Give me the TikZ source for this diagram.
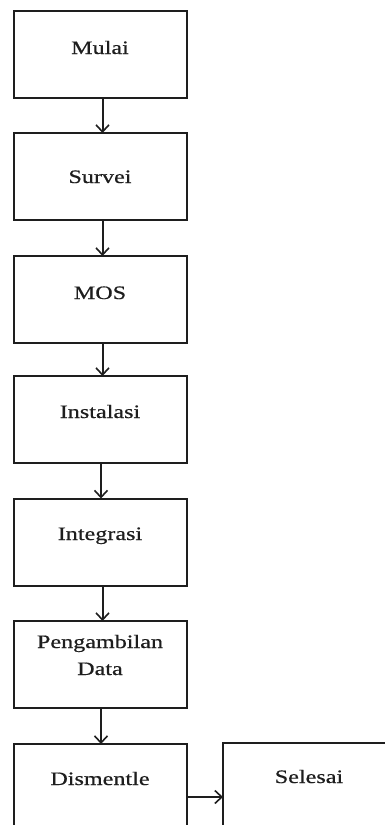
\documentclass[tikz,border=0pt]{standalone}
\usepackage{fontspec}
\newfontfamily\boxfont[FakeStretch=1.27,FakeBold=0.6]{Liberation Serif}
\usetikzlibrary{arrows.meta}
\definecolor{ink}{HTML}{1E1E1E}
\tikzset{
  stepbox/.style={draw=ink, line width=2pt, rectangle, minimum width=173pt, minimum height=87pt, inner sep=0pt, outer sep=0pt},
  steptext/.style={font=\boxfont\fontsize{19}{27}\selectfont, text=ink, align=center, inner sep=0pt, anchor=base},
  flow/.style={draw=ink, line width=2pt, -{Straight Barb[length=7pt,width=13pt,line width=1.6pt]}}
}
\begin{document}
\begin{tikzpicture}[x=1pt,y=-1pt]
\useasboundingbox (0,0) rectangle (385,825);
\fill[white] (0,0) rectangle (385,825);
\clip (0,0) rectangle (385,825);
\node[stepbox] (b1) at (100.5,54.5) {};
\node[stepbox] (b2) at (100.5,176.5) {};
\node[stepbox] (b3) at (100.5,299.5) {};
\node[stepbox] (b4) at (100.5,419.5) {};
\node[stepbox] (b5) at (100.5,542) {};
\node[stepbox] (b6) at (100.5,664.5) {};
\node[stepbox] (b7) at (100.5,787.5) {};
\node[stepbox] (b8) at (309.5,786.5) {};
\node[steptext] (t1) at (100,54) {Mulai};
\node[steptext] (t2) at (100,183) {Survei};
\node[steptext] (t3) at (100,299) {MOS};
\node[steptext] (t4) at (100,418) {Instalasi};
\node[steptext] (t5) at (100,540) {Integrasi};
\node[steptext] (t6) at (100,675) {Pengambilan\\Data};
\node[steptext] (t7) at (100,785) {Dismentle};
\node[steptext] (t8) at (309,783) {Selesai};
\draw[flow] ([xshift=2pt]b1.south) -- ([xshift=2pt]b2.north);
\draw[flow] ([xshift=2pt]b2.south) -- ([xshift=2pt]b3.north);
\draw[flow] ([xshift=2pt]b3.south) -- ([xshift=2pt]b4.north);
\draw[flow] ([xshift=0.5pt]b4.south) -- ([xshift=0.5pt]b5.north);
\draw[flow] ([xshift=2pt]b5.south) -- ([xshift=2pt]b6.north);
\draw[flow] ([xshift=0.5pt]b6.south) -- ([xshift=0.5pt]b7.north);
\draw[flow] (b7.east |- 0,797) -- (b8.west |- 0,797);
\end{tikzpicture}
\end{document}
